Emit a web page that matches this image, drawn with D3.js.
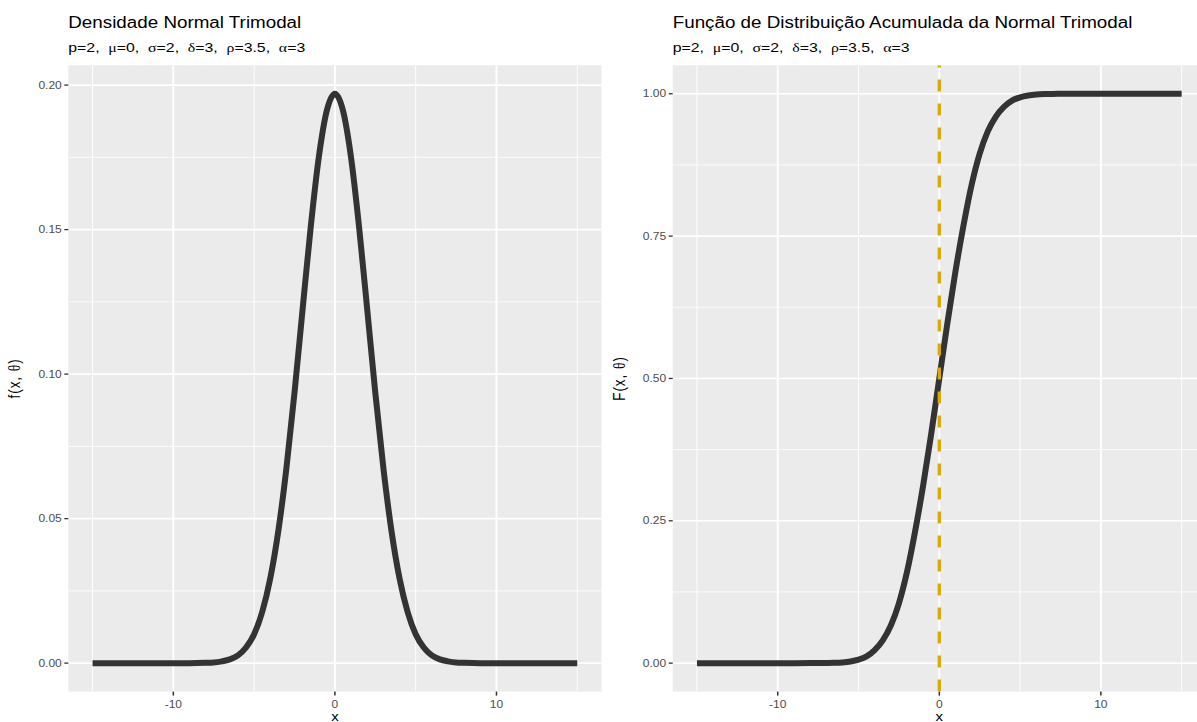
<!DOCTYPE html>
<html>
<head>
<meta charset="utf-8">
<script src="https://cdn.jsdelivr.net/npm/d3@7"></script>
<style>
  html, body { margin: 0; padding: 0; background: #ffffff; }
  svg { display: block; }
</style>
</head>
<body>
<svg id="chart" width="1197" height="722"></svg>
<script>
// Evaluation grid for both curves
const xValues = [-15, -12, -10, -9, -8, -7.5, -7, -6.5, -6, -5.5, -5, -4.5, -4, -3.5, -3, -2.5, -2, -1.5, -1, -0.5,
                 0, 0.5, 1, 1.5, 2, 2.5, 3, 3.5, 4, 4.5, 5, 5.5, 6, 6.5, 7, 7.5, 8, 9, 10, 12, 15];

// Density f(x, θ)
const densityValues = [0, 0, 0, 0, 0.0001, 0.0002, 0.0006, 0.0013, 0.0027, 0.0054, 0.0100, 0.0177, 0.0293, 0.0458, 0.0675, 0.0936, 0.1224, 0.1507, 0.1749, 0.1912,
                       0.1970, 0.1912, 0.1749, 0.1507, 0.1224, 0.0936, 0.0675, 0.0458, 0.0293, 0.0177, 0.0100, 0.0054, 0.0027, 0.0013, 0.0006, 0.0002, 0.0001, 0, 0, 0, 0];

// Cumulative distribution F(x, θ)
const cdfValues = [0, 0, 0, 0, 0.0001, 0.0001, 0.0002, 0.0005, 0.0013, 0.0030, 0.0062, 0.0120, 0.0230, 0.0400, 0.0660, 0.1050, 0.1600, 0.2310, 0.3120, 0.4030,
                   0.5000, 0.5970, 0.6880, 0.7690, 0.8400, 0.8950, 0.9340, 0.9600, 0.9770, 0.9880, 0.9938, 0.9970, 0.9987, 0.9995, 0.9998, 0.9999, 0.9999, 1, 1, 1, 1];

// Reference line on the CDF panel
const vlineX = [0];

// Axis ticks
const xMajorTicks = [-10, 0, 10];
const xMinorTicks = [-15, -5, 5, 15];
const densityMajorTicks = [0, 0.05, 0.10, 0.15, 0.20];
const densityMinorTicks = [0.025, 0.075, 0.125, 0.175];
const cdfMajorTicks = [0, 0.25, 0.50, 0.75, 1.00];
const cdfMinorTicks = [0.125, 0.375, 0.625, 0.875];

const titles = ["Densidade Normal Trimodal", "Função de Distribuição Acumulada da Normal Trimodal"];
const subtitleParts = [["p", "=2,  "], ["μ", "=0,  "], ["σ", "=2,  "], ["δ", "=3,  "], ["ρ", "=3.5,  "], ["α", "=3"]];
const yTitles = ["f", "F"];

const SANS = "'Liberation Sans', Arial, Helvetica, sans-serif";
const SERIF = "'Liberation Serif', 'DejaVu Serif', serif";
const SX = 1.19;   // horizontal glyph stretch

const svg = d3.select("#chart");

function stretchedText(parent, x, y, anchor, rotate) {
  return parent.append("text")
    .attr("transform", `translate(${x},${y}) scale(${SX},1)` + (rotate ? ` rotate(${rotate})` : ""))
    .attr("text-anchor", anchor)
    .attr("font-family", SANS);
}

function drawPanel(cfg) {
  const x = d3.scaleLinear().domain([-16.5, 16.5]).range([cfg.left, cfg.right]);
  const y = d3.scaleLinear().domain(cfg.yDomain).range([cfg.bottom, cfg.top]);
  const g = svg.append("g");

  const clipId = "clip-" + cfg.id;
  svg.append("clipPath").attr("id", clipId)
    .append("rect").attr("x", cfg.left).attr("y", cfg.top)
    .attr("width", cfg.right - cfg.left).attr("height", cfg.bottom - cfg.top);

  g.append("rect")
    .attr("x", cfg.left).attr("y", cfg.top)
    .attr("width", cfg.right - cfg.left).attr("height", cfg.bottom - cfg.top)
    .attr("fill", "#EBEBEB");

  const grid = g.append("g").attr("clip-path", `url(#${clipId})`);
  grid.selectAll(".ymin").data(cfg.yMinor).join("line")
    .attr("x1", cfg.left).attr("x2", cfg.right)
    .attr("y1", d => y(d)).attr("y2", d => y(d))
    .attr("stroke", "#ffffff").attr("stroke-width", 0.8);
  grid.selectAll(".xmin").data(xMinorTicks).join("line")
    .attr("x1", d => x(d)).attr("x2", d => x(d))
    .attr("y1", cfg.top).attr("y2", cfg.bottom)
    .attr("stroke", "#ffffff").attr("stroke-width", 0.95);
  grid.selectAll(".ymaj").data(cfg.yMajor).join("line")
    .attr("x1", cfg.left).attr("x2", cfg.right)
    .attr("y1", d => y(d)).attr("y2", d => y(d))
    .attr("stroke", "#ffffff").attr("stroke-width", 1.6);
  grid.selectAll(".xmaj").data(xMajorTicks).join("line")
    .attr("x1", d => x(d)).attr("x2", d => x(d))
    .attr("y1", cfg.top).attr("y2", cfg.bottom)
    .attr("stroke", "#ffffff").attr("stroke-width", 1.9);

  const line = d3.line()
    .x((d, i) => x(xValues[i]))
    .y(d => y(d))
    .curve(d3.curveMonotoneX);

  const marks = g.append("g").attr("clip-path", `url(#${clipId})`);
  marks.append("path")
    .datum(cfg.values)
    .attr("d", line)
    .attr("fill", "none")
    .attr("stroke", "#333333")
    .attr("stroke-width", 6)
    .attr("stroke-linecap", "butt")
    .attr("stroke-linejoin", "round");

  if (cfg.vline) {
    marks.selectAll(".vline").data(cfg.vline).join("line")
      .attr("x1", d => x(d)).attr("x2", d => x(d))
      .attr("y1", cfg.bottom).attr("y2", cfg.top)
      .attr("stroke", "#D9AB00")
      .attr("stroke-width", 3.3)
      .attr("stroke-dasharray", "12,12");
  }

  // Y axis ticks and labels
  g.selectAll(".ytick").data(cfg.yMajor).join("line")
    .attr("x1", cfg.left - 4).attr("x2", cfg.left)
    .attr("y1", d => y(d)).attr("y2", d => y(d))
    .attr("stroke", "#333333").attr("stroke-width", 1.3);
  cfg.yMajor.forEach(v => {
    stretchedText(g, cfg.left - 6.5, y(v) + 3.6, "end")
      .attr("font-size", 10.1).attr("fill", "#4D4D4D")
      .text(d3.format(".2f")(v));
  });

  // X axis ticks and labels
  g.selectAll(".xtick").data(xMajorTicks).join("line")
    .attr("x1", d => x(d)).attr("x2", d => x(d))
    .attr("y1", cfg.bottom).attr("y2", cfg.bottom + 4)
    .attr("stroke", "#333333").attr("stroke-width", 1.5);
  xMajorTicks.forEach(v => {
    stretchedText(g, x(v), cfg.bottom + 16.8, "middle")
      .attr("font-size", 10.1).attr("fill", "#4D4D4D")
      .text(d3.format("d")(v).replace("−", "-"));
  });

  // Axis titles
  stretchedText(g, (cfg.left + cfg.right) / 2, 720.5, "middle")
    .attr("font-size", 12.6).attr("fill", "#000000").text("x");

  const yt = stretchedText(g, cfg.yTitleX, (cfg.top + cfg.bottom) / 2, "middle", -90)
    .attr("font-size", 13.4).attr("letter-spacing", 1).attr("fill", "#000000");
  yt.append("tspan").text(cfg.yTitle + "(x, ");
  yt.append("tspan").attr("font-family", SERIF).text("θ");
  yt.append("tspan").text(")");

  // Title and subtitle
  stretchedText(g, cfg.left, 27.7, "start")
    .attr("font-size", 15.8).attr("fill", "#000000").text(cfg.title);
  const st = stretchedText(g, cfg.left, 51.7, "start")
    .attr("font-size", 13.3).attr("fill", "#000000");
  subtitleParts.forEach(([sym, rest]) => {
    st.append("tspan").attr("font-family", sym === "p" ? SANS : SERIF).text(sym);
    st.append("tspan").attr("font-family", SANS).style("white-space", "pre").text(rest);
  });
}

drawPanel({
  id: "density", left: 68.3, right: 601.5, top: 65.3, bottom: 691.6,
  yDomain: [-0.00985, 0.20685],
  yMajor: densityMajorTicks, yMinor: densityMinorTicks,
  values: densityValues, title: titles[0], yTitle: yTitles[0], yTitleX: 20.2
});

drawPanel({
  id: "cdf", left: 672.7, right: 1205.9, top: 65.3, bottom: 691.6,
  yDomain: [-0.05, 1.05],
  yMajor: cdfMajorTicks, yMinor: cdfMinorTicks,
  values: cdfValues, vline: vlineX, title: titles[1], yTitle: yTitles[1], yTitleX: 624.8
});
</script>
</body>
</html>
